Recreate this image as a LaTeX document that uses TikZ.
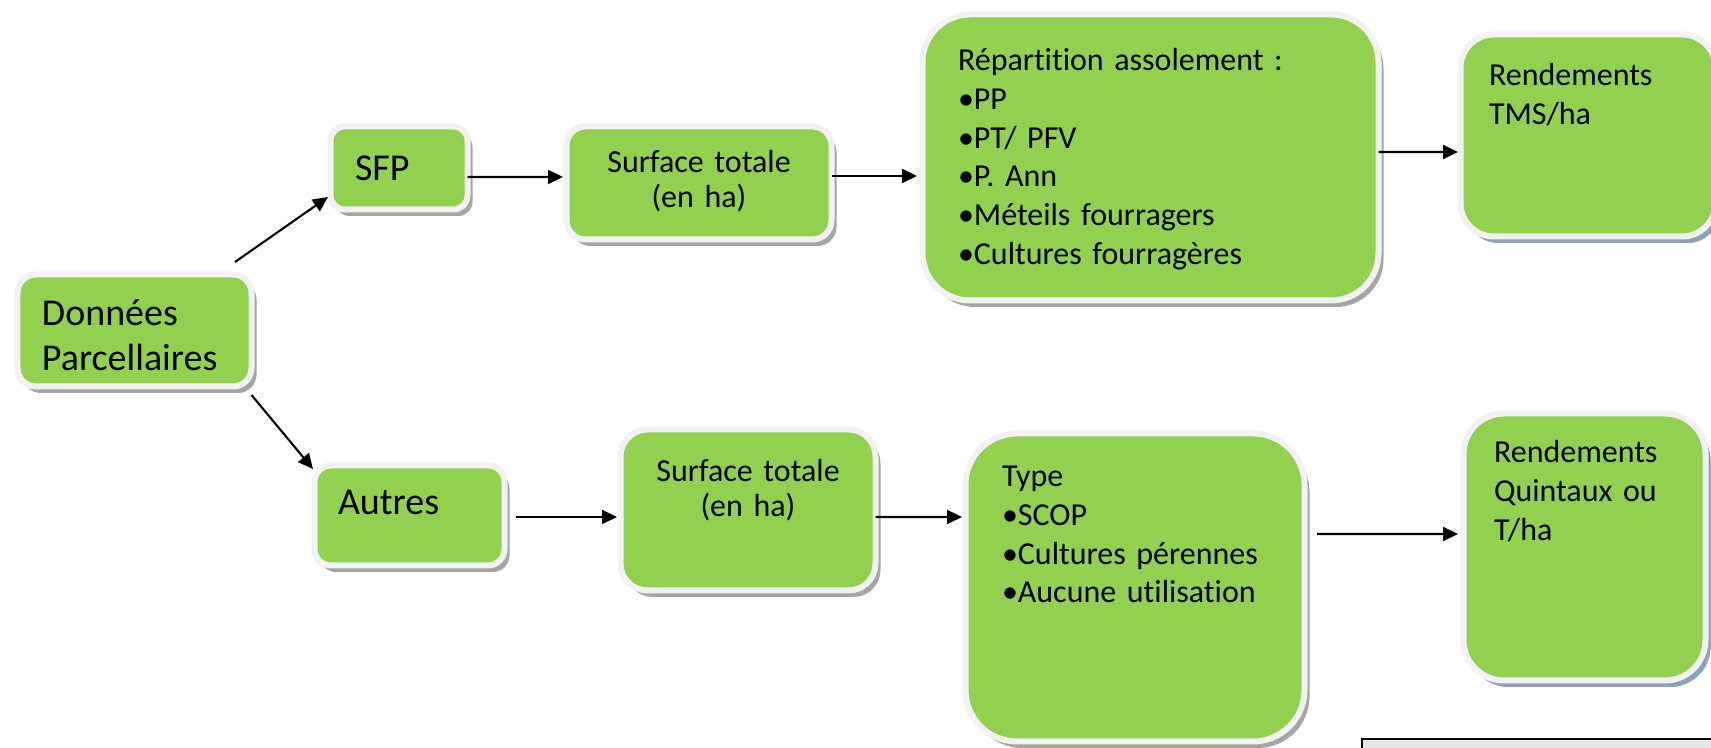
\documentclass[tikz,border=0pt]{standalone}
\usepackage{fontspec}
\setmainfont{Carlito}[Ligatures={NoCommon,NoRare}]
\usepackage{xcolor}
\usepackage{tikz}
\usetikzlibrary{arrows.meta, shadows}
\definecolor{leafgreen}{RGB}{146,208,80}
\definecolor{ringgray}{RGB}{242,242,242}
\definecolor{shadowgray}{RGB}{165,165,165}
\definecolor{shadowblue}{RGB}{140,162,188}
\definecolor{notegray}{RGB}{230,230,230}

\begin{document}
\begin{tikzpicture}[
    card/.style={rectangle, fill=leafgreen, draw=ringgray, line width=0.12cm, outer sep=0pt, align=left,
        drop shadow={shadow xshift=0.1cm, shadow yshift=-0.13cm, fill=shadowgray, opacity=1}},
    bluecard/.style={card, drop shadow={shadow xshift=0.1cm, shadow yshift=-0.13cm, fill=shadowblue, opacity=1}},
    bigfont/.style={font=\fontsize{21.6}{25.6}\selectfont},
    midfont/.style={font=\fontsize{18.2}{19.9}\selectfont},
    smallfont/.style={font=\fontsize{18.2}{22}\selectfont},
    arrow/.style={-{Triangle[length=0.3cm, width=0.28cm]}, line width=1.2pt}
]
\useasboundingbox (0,0) rectangle (34.22,14.96);

\node[card, bigfont, inner xsep=0.49cm, inner ysep=0.534cm, text width=3.70cm, text height=0.49cm, text depth=0.682cm, rounded corners=0.37cm] (don) at (2.69,8.35) {Données\\Parcellaires};

\node[card, bigfont, inner xsep=0.49cm, inner ysep=0.54cm, text width=1.76cm, text height=0.54cm, text depth=0.04cm, rounded corners=0.28cm] (sfp) at (7.98,11.60) {SFP};
\node[card, midfont, align=center, inner xsep=0.40cm, inner ysep=0.50cm, text width=4.50cm, text height=0.43cm, text depth=0.83cm, rounded corners=0.38cm] (surfA) at (13.98,11.30) {Surface totale\\(en ha)};
\node[card, smallfont, inner xsep=0.71cm, inner ysep=0.66cm, text width=7.70cm, text height=0.47cm, text depth=3.93cm, rounded corners=0.95cm] (repart) at (23.01,11.81) {Répartition assolement :\\•PP\\•PT/ PFV\\•P. Ann\\•Méteils fourragers\\•Cultures fourragères};
\node[bluecard, smallfont, inner xsep=0.57cm, inner ysep=0.56cm, text width=3.96cm, text height=0.46cm, text depth=2.46cm, rounded corners=0.67cm] (rendA) at (31.76,12.25) {Rendements\\TMS/ha};

\node[card, bigfont, inner xsep=0.47cm, inner ysep=0.50cm, text width=2.86cm, text height=0.49cm, text depth=0.51cm, rounded corners=0.33cm] (autres) at (8.19,4.65) {Autres};
\node[card, midfont, align=center, inner xsep=0.40cm, inner ysep=0.64cm, text width=4.30cm, text height=0.41cm, text depth=1.53cm, rounded corners=0.54cm] (surfB) at (14.96,4.76) {Surface totale\\(en ha)};
\node[card, smallfont, inner xsep=0.73cm, inner ysep=0.66cm, text width=5.32cm, text height=0.41cm, text depth=4.43cm, rounded corners=1.03cm] (type) at (22.70,3.21) {Type\\•SCOP\\•Cultures pérennes\\•Aucune utilisation};
\node[bluecard, smallfont, inner xsep=0.61cm, inner ysep=0.58cm, text width=3.62cm, text height=0.41cm, text depth=3.77cm, rounded corners=0.81cm] (rendB) at (31.69,4.02) {Rendements\\Quintaux ou\\T/ha};

\draw[arrow] ([xshift=-0.33cm, yshift=0.25cm]don.north east) -- ([xshift=-0.05cm, yshift=0.25cm]sfp.south west);
\draw[arrow] ([yshift=-0.17cm]don.south east) -- ([xshift=-0.03cm, yshift=-0.07cm]autres.north west);
\draw[arrow] ([yshift=-0.18cm]sfp.east) -- ([xshift=-0.07cm, yshift=0.12cm]surfA.west);
\draw[arrow] ([yshift=0.14cm]surfA.east) -- ([xshift=-0.11cm, yshift=-0.37cm]repart.west);
\draw[arrow] ([yshift=0.11cm]repart.east) -- ([xshift=-0.05cm, yshift=-0.33cm]rendA.west);
\draw[arrow] ([xshift=0.23cm, yshift=-0.03cm]autres.east) -- ([xshift=-0.07cm, yshift=-0.14cm]surfB.west);
\draw[arrow] ([yshift=-0.14cm]surfB.east) -- ([xshift=-0.07cm, yshift=1.41cm]type.west);
\draw[arrow] ([xshift=0.25cm, yshift=1.07cm]type.east) -- ([xshift=-0.11cm, yshift=0.26cm]rendB.west);

\draw[line width=1.2pt, fill=notegray] (27.24,0.18) rectangle (35,-1);
\end{tikzpicture}
\end{document}
